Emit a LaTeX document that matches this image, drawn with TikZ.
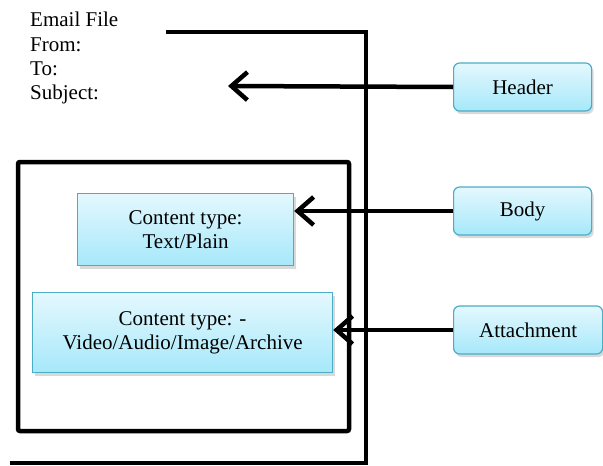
\documentclass[tikz,border=0pt]{standalone}
\usepackage{fontspec}
\setmainfont{Liberation Serif}
\usetikzlibrary{arrows.meta,shadows}

\definecolor{tagedge}{RGB}{75,172,198}
\definecolor{tagtop}{RGB}{228,248,254}
\definecolor{tagbot}{RGB}{166,232,250}

\begin{document}
\begin{tikzpicture}[x=1pt,y=-1pt,
  part/.style={draw=tagedge, line width=1.2pt, top color=tagtop, bottom color=tagbot,
    drop shadow={opacity=0.3, shadow xshift=2pt, shadow yshift=-3pt},
    font=\fontsize{21}{23.5}\selectfont, align=center, inner sep=0pt},
  tag/.style={part, rounded corners=6pt, minimum width=138pt, minimum height=48pt},
  ptr/.style={line width=4.5pt, -{Straight Barb[length=16pt,width=28pt]}},
  frame/.style={line width=4.5pt}]
\useasboundingbox (0,0) rectangle (603,466);

% email file header lines
\node (fields) [anchor=north west, align=left, inner sep=0pt,
  font=\fontsize{21}{24.3}\selectfont] at (30,12) {Email File\\From:\\To:\\Subject:};

% outer frame and inner body box
\draw[frame, line join=miter] (166,32) -- (366,32) -- (366,463) -- (10,463);
\draw[frame, rounded corners=2pt] (18,162) rectangle (349,431);

% content types
\node (plain) [part, minimum width=216pt, minimum height=72pt, anchor=north west] at (77,193)
  {Content type:\\Text/Plain};
\node (media) [part, minimum width=300pt, minimum height=80pt, anchor=north west] at (32,292)
  {Content type: -\\Video/Audio/Image/Archive};

% parts of the email
\node (header) [tag, anchor=west] at (453,87) {Header};
\node (body) [tag, anchor=west] at (453,211) {Body};
\node (attach) [tag, anchor=west, minimum width=149pt] at (453,330) {Attachment};

\coordinate (hdrtip) at (228,86);
\draw[ptr] (header.west) -- (hdrtip);
\draw[ptr] (body.west) -- (body.west -| plain.east);
\draw[ptr] (attach.west) -- (attach.west -| media.east);
\end{tikzpicture}
\end{document}
